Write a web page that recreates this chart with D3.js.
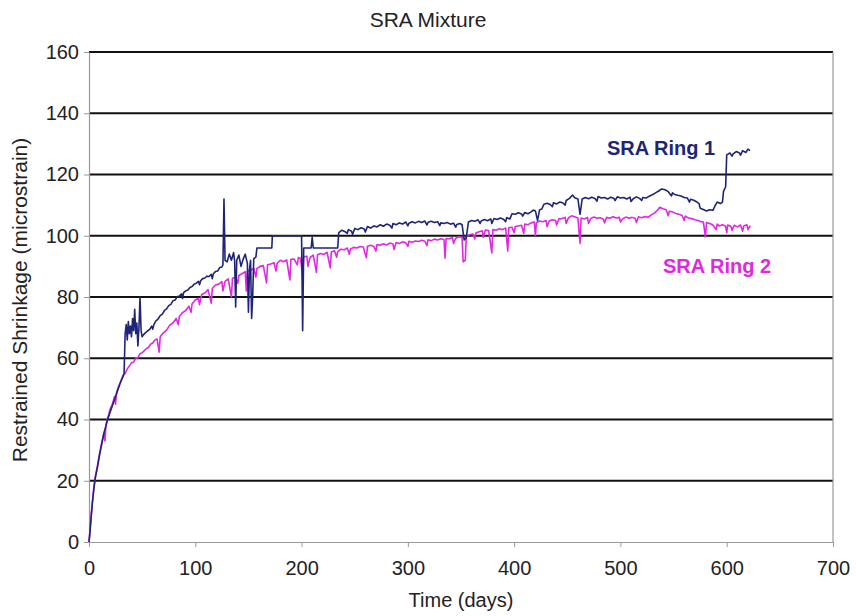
<!DOCTYPE html>
<html>
<head>
<meta charset="utf-8">
<script src="https://cdn.jsdelivr.net/npm/d3@7/dist/d3.min.js"></script>
<style>
  html, body { margin: 0; padding: 0; background: #fff; }
  svg { display: block; font-family: "Liberation Sans", Arial, sans-serif; }
</style>
</head>
<body>
<svg id="chart" width="856" height="616"></svg>
<script>
// Restrained shrinkage of the two SRA rings: [day, microstrain]
const ring1Data = [[0,0],[1,3.5],[2,8],[3,12],[4,15.5],[5,18.5],[6,21],[8,24.5],[10,28.5],[12,32],[14,35.5],[16,38],[18,40.5],[20,42.5],[22,44.5],[24,46.5],[26,48.5],[28,50.5],[30,52.5],[32,54],[33,55],[34,68],[35,71],[36,66],[37,72],[38,68],[39,70.5],[40,67],[41,73],[42,69],[43,76],[44,68],[45,71.5],[46,64],[47,70],[48,80],[49,69],[50,67],[51,67.6],[53,68.3],[55,68.9],[57,69.4],[59,70.5],[60,69.5],[61,71],[63,72.2],[65,72.8],[67,73.9],[69,74.4],[71,75.6],[73,76.1],[75,77.2],[77,77.6],[79,78.8],[81,79],[83,80.1],[85,80.3],[87,81],[88,79.5],[89,81.4],[91,82],[93,82.3],[95,83.1],[97,83.4],[99,84.2],[101,84.5],[103,85.1],[104,84],[105,85.3],[107,86],[109,86.2],[111,86.8],[113,86.7],[115,87.4],[116,86],[117,87.6],[119,88.3],[121,88.5],[123,89.6],[125,89.8],[126,90.5],[127,112],[128,92],[130,91.5],[132,94],[134,92],[136,94.5],[137,92],[138,76.7],[139,92],[141,93.7],[143,90],[145,92.3],[147,94],[149,91],[150,75],[151,89],[152,92],[153,73],[154,80],[155,92.5],[157,93],[158,96],[172,96],[172.5,100],[200,100],[201,69],[202,96],[209,96],[210,99.5],[211,96],[234,96],[235,101],[238,101.8],[241,101.3],[243,100.8],[244,102],[247,101.5],[248,100.5],[250,102.4],[253,102],[256,102.6],[259,102.2],[260,101.2],[262,103],[265,102.5],[268,103.2],[271,102.9],[274,103.6],[277,103.1],[280,103.8],[283,103.4],[285,102.5],[286,104],[289,103.6],[292,104.2],[295,103.8],[298,104.5],[300,103.2],[301,104.1],[304,104.6],[307,104.2],[310,104.7],[313,104.3],[316,104.8],[318,103.5],[319,104.4],[322,104.7],[325,104.3],[328,104.6],[330,103.3],[331,104.2],[334,104],[337,104.3],[340,103.8],[343,104.1],[345,102.8],[346,103.7],[349,104],[351,103.6],[353,98.6],[355,99.5],[357,104.5],[360,105],[363,104.7],[366,105.2],[368,104],[369,104.8],[372,105.3],[375,104.9],[378,105.5],[379,104],[381,105.6],[384,105.3],[387,105.8],[390,105.4],[392,104.6],[393,105.9],[396,105.5],[398,107.2],[401,107],[404,107.5],[407,107.1],[408,106.4],[410,107.6],[413,107.2],[416,107.8],[418,108.4],[420,108.1],[422,105],[424,108.5],[426,108.7],[428,110.3],[431,110.6],[434,110.2],[436,109.5],[437,110.8],[440,110.4],[443,111],[446,110.7],[448,110],[449,111.5],[452,112.2],[455,113.3],[457,112.4],[460,112],[462,107],[464,112],[467,112.5],[470,112.1],[473,112.6],[476,112.2],[478,111.3],[479,112.8],[482,112.3],[485,112.5],[488,112],[491,112.6],[494,112.2],[495,111.5],[497,112.7],[500,112.3],[503,112.5],[506,112],[509,112.6],[510,111.2],[512,112.1],[515,112.7],[518,112.2],[520,111.5],[521,112.5],[524,112.3],[527,112.9],[530,113.4],[533,114],[536,114.6],[539,115.3],[542,115],[545,114.4],[548,113],[549,114],[551,113.5],[554,113.2],[557,113],[560,112.5],[563,112.3],[565,111],[566,111.9],[569,111.6],[572,111],[574,110.5],[575,109],[578,108.6],[581,108.1],[584,108.5],[587,108.3],[589,109.8],[591,111],[594,110.5],[596,111],[597,114.5],[599,116],[600,126.4],[603,127],[605,126],[606,126.7],[609,127.5],[612,127],[613,126.3],[615,127.8],[618,127.2],[620,128.3],[622,127.8]];

const ring2Data = [[0,0],[1,4],[2,8.5],[3,12.5],[4,16],[5,19],[6,21.5],[8,25],[10,29],[12,32.5],[14,35.5],[15,33],[16,38.5],[18,41],[20,43.5],[22,45],[24,47.5],[25,45],[26,49],[28,51],[30,52.5],[32,54.5],[34,55],[36,56.5],[38,57.5],[40,58.5],[42,58.8],[44,60],[46,60.2],[48,61.5],[50,61.8],[52,62.5],[54,63.2],[56,63.5],[58,64.6],[60,65],[62,66],[64,66.3],[66,62],[67,67],[70,68.3],[73,69.2],[76,70.8],[79,71.5],[82,73],[84,71],[85,73.6],[88,74.9],[91,75.6],[94,77],[96,75],[97,77.8],[100,79],[103,79.6],[104,77.5],[106,80.8],[109,81.3],[112,82.4],[115,78],[116,82.8],[119,83.9],[122,84.2],[125,85],[126,82],[128,85.1],[131,85.9],[134,80],[135,86.2],[138,86.3],[140,84.5],[141,87],[144,87.6],[147,88.3],[148,82],[149,88.5],[152,88.6],[155,89.4],[157,86.5],[158,89.3],[161,90],[164,90.3],[167,84.6],[168,90.5],[171,90.8],[174,91.2],[176,88.5],[177,91],[180,92],[183,91.5],[186,92.1],[189,85.6],[190,92.3],[193,92.4],[196,90.5],[197,92.9],[199,92.6],[201,87],[202,93.1],[205,93.3],[206,90],[208,92.9],[211,93.7],[214,88],[215,93.8],[218,94.2],[221,93.9],[224,94.6],[227,89.5],[228,94.7],[231,95.1],[233,93],[234,94.8],[237,95.6],[240,95.4],[243,96],[245,94],[246,95.7],[249,96.2],[252,96],[255,96.5],[258,96.3],[261,92.8],[262,96.6],[265,96.9],[268,96.5],[270,95],[271,97.1],[274,96.9],[277,97.4],[280,97],[283,97.6],[286,97.3],[287,95.5],[289,97.8],[292,97.5],[295,98],[298,97.7],[300,96.5],[301,98.2],[304,97.9],[307,98.3],[310,98.1],[313,98.5],[316,98.2],[318,96.8],[319,98.7],[322,98.4],[325,98.9],[328,98.6],[331,99],[334,98.8],[335,92.7],[336,99.1],[339,99],[342,99.4],[343,97.5],[345,99.2],[348,99.7],[351,99.4],[352,91.5],[354,92],[355,99.8],[358,100.3],[361,100.6],[363,99],[364,100.9],[367,101.3],[370,101.6],[371,99.5],[373,101.9],[376,101.7],[379,94.4],[380,102],[383,101.8],[386,102.3],[389,102],[392,102.5],[394,95],[395,102.6],[398,102.8],[400,101],[401,103],[404,103.2],[407,103.4],[409,100.8],[410,103.8],[413,103.6],[416,104.2],[419,104.5],[420,100],[421,104.3],[424,104.8],[427,104.6],[430,105],[431,103],[433,104.8],[436,105.2],[439,105],[440,103.5],[442,105.5],[445,105.6],[448,106],[449,104],[451,105.8],[454,106.5],[457,106.2],[460,105.8],[462,97.5],[463,105.8],[466,105.5],[469,106],[470,104],[472,105.6],[475,106.1],[478,105.7],[481,105.9],[484,105.4],[485,104.2],[487,106],[490,105.7],[493,106.2],[496,105.8],[499,106],[500,104.5],[502,105.5],[505,106.1],[508,105.7],[511,106],[514,105.6],[515,104.3],[517,106.2],[520,105.9],[523,106.3],[526,106],[529,106.8],[532,107.4],[535,108.4],[537,109.3],[540,108.8],[543,108.5],[545,106.5],[546,108],[549,107.8],[552,107.3],[555,107],[558,106.6],[560,105],[561,106.4],[564,105.8],[567,105.6],[570,105.2],[573,105],[576,104.6],[578,104.5],[580,99.6],[581,104.3],[584,104],[587,103.5],[590,102],[591,103.8],[593,103.2],[596,103.6],[599,103.1],[600,101],[601,103.5],[604,103],[605,101.8],[607,103.4],[610,102.9],[613,103.5],[615,101.5],[616,103.2],[619,103.6],[620,102],[622,103.3]];

const xTicks = [0, 100, 200, 300, 400, 500, 600, 700];
const yTicks = [0, 20, 40, 60, 80, 100, 120, 140, 160];

const seriesLabels = [
  { name: "SRA Ring 1", color: "#1e2578", at: [607, 155] },
  { name: "SRA Ring 2", color: "#e028e0", at: [663, 273] }
];

const width = 856, height = 616;
const margin = { top: 52, right: 23, bottom: 74, left: 89 };

const svg = d3.select("#chart");

const x = d3.scaleLinear().domain([0, 700]).range([margin.left, width - margin.right]);
const y = d3.scaleLinear().domain([0, 160]).range([height - margin.bottom, margin.top]);

// Horizontal gridlines
svg.append("g")
  .selectAll("line")
  .data(yTicks.filter(d => d > 0))
  .join("line")
  .attr("x1", x(0)).attr("x2", x(700))
  .attr("y1", d => y(d)).attr("y2", d => y(d))
  .attr("stroke", "#111").attr("stroke-width", 2.2);

// Right frame edge
svg.append("line")
  .attr("x1", x(700)).attr("x2", x(700))
  .attr("y1", y(160)).attr("y2", y(0))
  .attr("stroke", "#999").attr("stroke-width", 1.2);

// Axes
const xAxis = svg.append("g")
  .attr("transform", `translate(0,${y(0)})`)
  .call(d3.axisBottom(x).tickValues(xTicks).tickSize(5).tickPadding(14).tickSizeOuter(0));
const yAxis = svg.append("g")
  .attr("transform", `translate(${x(0)},0)`)
  .call(d3.axisLeft(y).tickValues(yTicks).tickSize(5).tickPadding(5).tickSizeOuter(0));

[xAxis, yAxis].forEach(g => {
  g.select(".domain").attr("stroke", "#999").attr("stroke-width", 1.2);
  g.selectAll(".tick line").attr("stroke", "#999");
  g.selectAll(".tick text")
    .attr("fill", "#222")
    .style("font-size", "20px")
    .style("font-family", "'Liberation Sans', Arial, sans-serif");
});

// Series lines, points ordered by day
const byDay = (a, b) => a[0] - b[0];
const line = d3.line().x(d => x(d[0])).y(d => y(d[1]));

svg.append("path")
  .datum(ring2Data.slice().sort(byDay))
  .attr("fill", "none")
  .attr("stroke", seriesLabels[1].color)
  .attr("stroke-width", 1.6)
  .attr("stroke-linejoin", "round")
  .attr("d", line);

svg.append("path")
  .datum(ring1Data.slice().sort(byDay))
  .attr("fill", "none")
  .attr("stroke", seriesLabels[0].color)
  .attr("stroke-width", 1.6)
  .attr("stroke-linejoin", "round")
  .attr("d", line);

// Series labels
svg.append("g")
  .selectAll("text")
  .data(seriesLabels)
  .join("text")
  .attr("x", d => d.at[0]).attr("y", d => d.at[1])
  .attr("fill", d => d.color)
  .style("font-size", "20px")
  .style("font-weight", "bold")
  .text(d => d.name);

// Title and axis titles
svg.append("text")
  .attr("x", 428).attr("y", 27)
  .attr("text-anchor", "middle")
  .attr("fill", "#222")
  .style("font-size", "21px")
  .text("SRA Mixture");

svg.append("text")
  .attr("x", x(350)).attr("y", 607)
  .attr("text-anchor", "middle")
  .attr("fill", "#222")
  .style("font-size", "20px")
  .text("Time (days)");

svg.append("text")
  .attr("transform", `translate(27,${(y(0) + y(160)) / 2 + 3}) rotate(-90)`)
  .attr("text-anchor", "middle")
  .attr("fill", "#222")
  .style("font-size", "21px")
  .text("Restrained Shrinkage (microstrain)");
</script>
</body>
</html>
